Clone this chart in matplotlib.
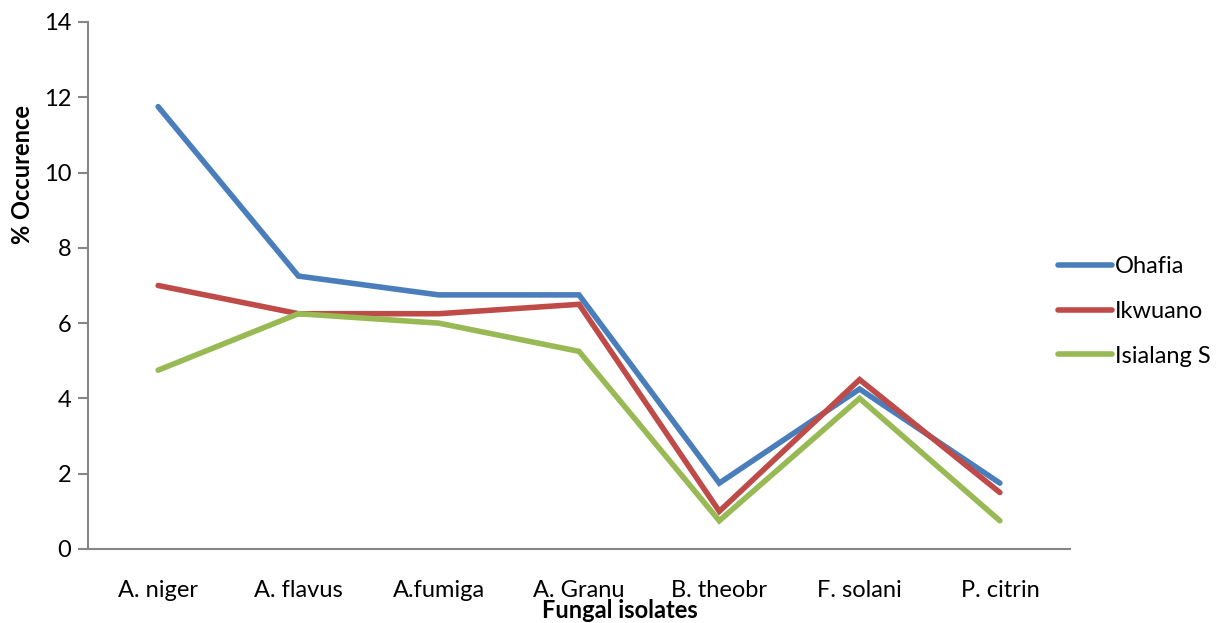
import matplotlib
matplotlib.use("Agg")
import matplotlib.pyplot as plt

# Fungal isolate occurrence (%) by location
isolates = ["A. niger", "A. flavus", "A.fumiga", "A. Granu", "B. theobr", "F. solani", "P. citrin"]
ohafia = [11.75, 7.25, 6.75, 6.75, 1.75, 4.25, 1.75]
ikwuano = [7.0, 6.25, 6.25, 6.5, 1.0, 4.5, 1.5]
isialang = [4.75, 6.25, 6.0, 5.25, 0.75, 4.0, 0.75]

series = [
    ("Ohafia", ohafia, "#4A7EBB"),
    ("Ikwuano", ikwuano, "#BE4B48"),
    ("Isialang S", isialang, "#98B954"),
]

plt.rcParams["font.family"] = ["Lato", "DejaVu Sans"]

fig = plt.figure(figsize=(12.24, 6.23), dpi=100)
ax = fig.add_axes([0.0719, 0.1188, 0.8023, 0.8459])

x = list(range(len(isolates)))
for name, vals, color in series:
    ax.plot(x, vals, color=color, linewidth=4.0, solid_capstyle="round",
            solid_joinstyle="miter", label=name)

ax.set_xlim(-0.5, len(isolates) - 0.5)
ax.set_ylim(0, 14)
ax.set_yticks(range(0, 15, 2))
ax.set_xticks(x)
ax.set_xticklabels(isolates)

for side in ("top", "right"):
    ax.spines[side].set_visible(False)
for side in ("left", "bottom"):
    ax.spines[side].set_color("#868686")
    ax.spines[side].set_linewidth(1.5)

ax.tick_params(axis="y", length=7, width=1.5, color="#868686", labelsize=17, pad=5)
ax.tick_params(axis="x", length=0, labelsize=17, pad=22)

fig.text(0.5065, 0.002, "Fungal isolates", ha="center", va="bottom",
         fontsize=17, fontweight="bold")
fig.text(0.018, 0.72, "% Occurence", ha="center", va="center", rotation=90,
         fontsize=17, fontweight="bold")

leg = ax.legend(loc="center left", bbox_to_anchor=(0.847, 0.50),
                bbox_transform=fig.transFigure, frameon=False, fontsize=17,
                handlelength=2.3, handletextpad=0.1, labelspacing=1.0)

fig.savefig("out.png", dpi=100)
